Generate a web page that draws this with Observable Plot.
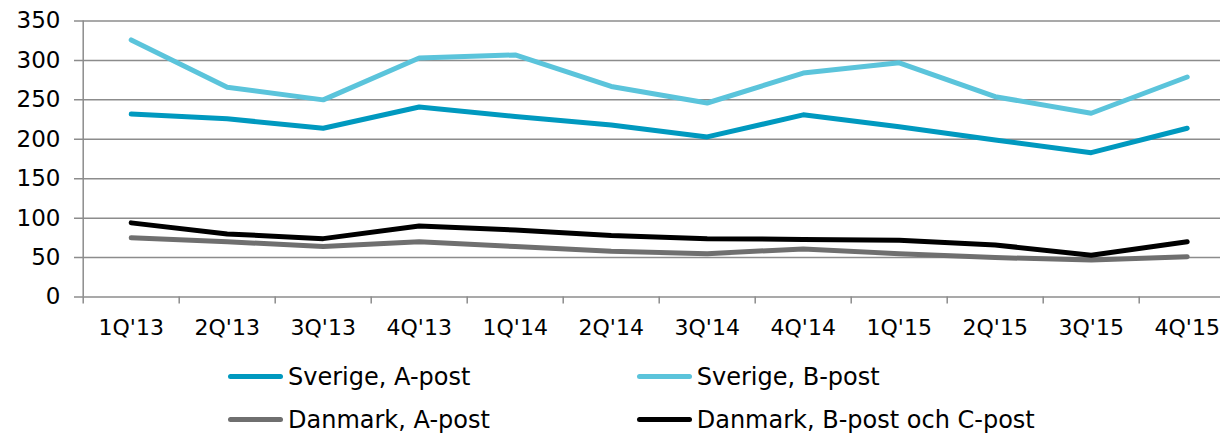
<!DOCTYPE html>
<html>
<head>
<meta charset="utf-8">
<script src="https://cdn.jsdelivr.net/npm/d3@7"></script>
<script src="https://cdn.jsdelivr.net/npm/@observablehq/plot@0.6"></script>
<style>
  html, body { margin: 0; padding: 0; background: #fff; }
  #wrap { width: 1220px; height: 434px; overflow: hidden; font-family: "DejaVu Sans", Verdana, sans-serif; }
  #legend { position: relative; width: 1220px; height: 84px; }
  .item { position: absolute; height: 28px; display: flex; align-items: center; font-size: 24px; line-height: 1; color: #000; white-space: nowrap; }
  .sw { width: 55px; height: 5px; border-radius: 3px; margin-right: 5px; }
</style>
</head>
<body>
<div id="wrap"><div id="chart"></div><div id="legend"></div></div>
<script>
const categories = ["1Q'13","2Q'13","3Q'13","4Q'13","1Q'14","2Q'14","3Q'14","4Q'14","1Q'15","2Q'15","3Q'15","4Q'15"];
const seriesNames = ["Sverige, A-post","Sverige, B-post","Danmark, A-post","Danmark, B-post och C-post"];
const sverigeA = [232, 226, 214, 241, 229, 218, 203, 231, 216, 199, 183, 214];
const sverigeB = [326, 266, 250, 303, 307, 267, 246, 284, 297, 254, 233, 279];
const danmarkA = [75, 70, 64, 70, 64, 58, 55, 61, 55, 50, 47, 51];
const danmarkB = [94, 80, 74, 90, 85, 78, 74, 73, 72, 66, 53, 70];
const yTicks = [0, 50, 100, 150, 200, 250, 300, 350];
const colors = ["#0099BF", "#5BC4DB", "#6F6F6F", "#000000"];

const allValues = [sverigeA, sverigeB, danmarkA, danmarkB];
const data = seriesNames.flatMap((name, s) => allValues[s].map((v, i) => ({name, pos: i + 0.5, v})));
const centers = categories.map((c, i) => i + 0.5);
const bounds = d3.range(0, categories.length + 1);
const grid = "#8c8c8c";

const chart = Plot.plot({
  width: 1220,
  height: 350,
  marginLeft: 74,
  marginRight: 0,
  marginTop: 20.5,
  marginBottom: 53.5,
  x: {type: "linear", domain: [0, categories.length], range: [82.7, 1234.7]},
  y: {domain: [0, 350], range: [296.5, 20.5]},
  color: {domain: seriesNames, range: colors},
  style: {fontFamily: "DejaVu Sans, Verdana, sans-serif", fontSize: "22px", color: "#000", background: "white", overflow: "hidden"},
  marks: [
    Plot.ruleY(yTicks, {stroke: grid, strokeWidth: 1.5}),
    Plot.ruleX(bounds, {y1: 0, y2: -9, stroke: grid, strokeWidth: 1.5}),
    Plot.ruleX([0], {y1: 0, y2: 350, stroke: grid, strokeWidth: 1.5}),
    Plot.axisY(yTicks, {anchor: "left", tickSize: 0, tickPadding: 14, fontSize: 23, label: null, tickFormat: d => String(d)}),
    Plot.axisX(centers, {anchor: "bottom", tickSize: 0, tickPadding: 22, fontSize: 22, label: null, tickFormat: d => categories[Math.round(d - 0.5)]}),
    Plot.line(data, {x: "pos", y: "v", z: "name", stroke: "name", strokeWidth: 5, strokeLinecap: "round", strokeLinejoin: "round"})
  ]
});
document.getElementById("chart").appendChild(chart);

const legend = document.getElementById("legend");
const legendPos = [[228, 26.5], [636.7, 26.5], [228, 69.5], [636.7, 69.5]];
seriesNames.forEach((name, i) => {
  const it = document.createElement("div");
  it.className = "item";
  it.style.left = legendPos[i][0] + "px";
  it.style.top = (legendPos[i][1] - 14) + "px";
  const sw = document.createElement("div");
  sw.className = "sw";
  sw.style.background = colors[i];
  const tx = document.createElement("span");
  tx.textContent = name;
  it.appendChild(sw);
  it.appendChild(tx);
  legend.appendChild(it);
});
</script>
</body>
</html>
